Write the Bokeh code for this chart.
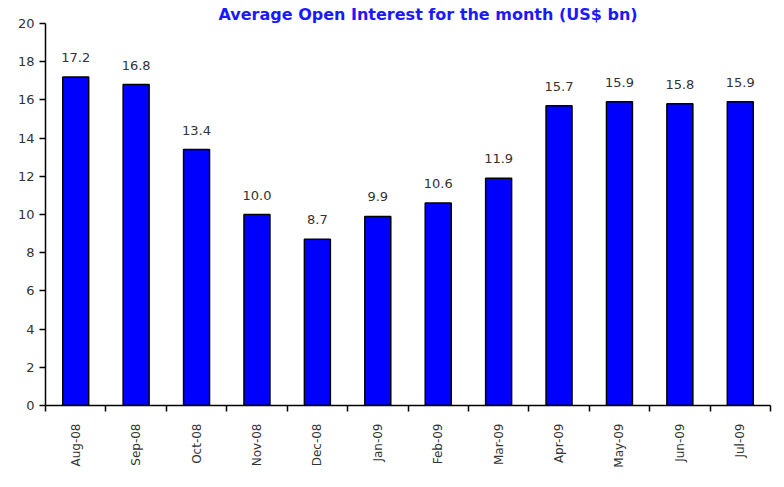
import math
from bokeh.plotting import figure
from bokeh.models import ColumnDataSource, FixedTicker, Range1d
from bokeh.core.properties import value
from bokeh.embed import file_html
from bokeh.resources import INLINE

months = ["Aug-08", "Sep-08", "Oct-08", "Nov-08", "Dec-08", "Jan-09",
          "Feb-09", "Mar-09", "Apr-09", "May-09", "Jun-09", "Jul-09"]
open_interest = [17.2, 16.8, 13.4, 10.0, 8.7, 9.9, 10.6, 11.9, 15.7, 15.9, 15.8, 15.9]
y_ticks = [0, 2, 4, 6, 8, 10, 12, 14, 16, 18, 20]
title_text = "Average Open Interest for the month (US$ bn)"

xpos = [i + 0.5 for i in range(len(months))]
src = ColumnDataSource(dict(x=xpos, y=open_interest,
                            lbl=["%.1f" % v for v in open_interest]))

p = figure(width=772, height=471, output_backend="svg", toolbar_location=None,
           x_range=Range1d(0, len(months)), y_range=Range1d(0, 20),
           min_border_left=45, min_border_right=2, min_border_top=23,
           min_border_bottom=66)
p.outline_line_color = None
p.xgrid.grid_line_color = None
p.ygrid.grid_line_color = None
p.background_fill_color = "white"
p.border_fill_color = "white"

p.title.text = title_text
p.title.align = "left"
p.title.offset = 173
p.title.text_font = "DejaVu Sans"
p.title.text_font_style = "bold"
p.title.text_font_size = "16px"
p.title.text_color = "#1a1aff"
p.title.standoff = 0

p.vbar(x="x", top="y", width=0.43, bottom=0, source=src,
       fill_color="#0000ff", line_color="black", line_width=1.5)

p.text(x="x", y="y", text="lbl", source=src, text_align="center",
       text_baseline="bottom", y_offset=-15, text_font=value("DejaVu Sans"),
       text_font_size="13px", text_color="#333333")

xa = p.xaxis[0]
xa.ticker = FixedTicker(ticks=xpos, minor_ticks=list(range(len(months) + 1)))
xa.major_label_overrides = {x: m for x, m in zip(xpos, months)}
xa.major_tick_out = 0
xa.major_tick_in = 0
xa.minor_tick_out = 6
xa.minor_tick_in = 0
xa.minor_tick_line_color = "black"
xa.minor_tick_line_width = 1.5
xa.axis_line_color = "black"
xa.axis_line_width = 1.5
xa.major_label_orientation = math.pi / 2
xa.major_label_text_font = "DejaVu Sans"
xa.major_label_text_font_size = "12px"
xa.major_label_text_color = "#333333"
xa.major_label_standoff = 12

ya = p.yaxis[0]
ya.ticker = FixedTicker(ticks=y_ticks)
ya.minor_tick_line_color = None
ya.major_tick_out = 6
ya.major_tick_in = 0
ya.major_tick_line_width = 1.5
ya.axis_line_width = 1.5
ya.major_label_text_font = "DejaVu Sans"
ya.major_label_text_font_size = "13px"
ya.major_label_text_color = "#333333"
ya.major_label_standoff = 5

open("out.html", "w").write(file_html(p, INLINE))
